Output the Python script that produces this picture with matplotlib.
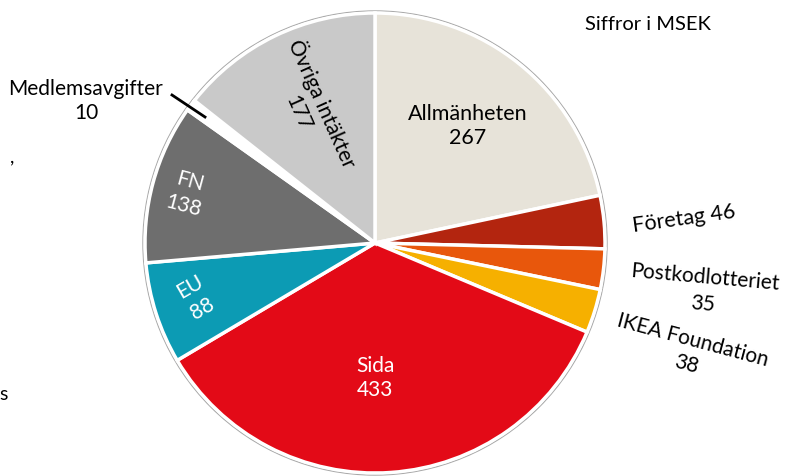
import numpy as np
import matplotlib.pyplot as plt
from matplotlib.patches import Circle

labels = ['Allmänheten', 'Företag', 'Postkodlotteriet', 'IKEA Foundation',
          'Sida', 'EU', 'FN', 'Medlemsavgifter', 'Övriga intäkter']
values = [267, 46, 35, 38, 433, 88, 138, 10, 177]
colors = ['#e7e3d9', '#b3250f', '#e8570c', '#f6b000', '#e30a17',
          '#0c9bb4', '#6e6e6e', '#ffffff', '#c9c9c9']

plt.rcParams['font.family'] = ['Lato', 'DejaVu Sans']

W, H = 785, 476
fig = plt.figure(figsize=(7.85, 4.76), dpi=100)
ax = fig.add_axes([0, 0, 1, 1])

cx, cy, r = 375, H - 243, 230
ax.add_patch(Circle((cx, cy), r + 2, fill=False, ec='#a8a8a8', lw=1.0))
ax.pie(values, colors=colors, startangle=90, counterclock=False,
       center=(cx, cy), radius=r, frame=True,
       wedgeprops=dict(edgecolor='white', linewidth=2.5))
ax.set_xlim(0, W)
ax.set_ylim(0, H)
ax.set_aspect('equal')
ax.axis('off')


def txt(x, y, s, color='black', rot=0, size=15, ls=1.3):
    ax.text(x, H - y, s, color=color, rotation=rot, ha='center', va='center',
            fontsize=size, linespacing=ls, rotation_mode='anchor')


txt(468, 126, 'Allmänheten\n267', size=15.5)
txt(684, 219, 'Företag 46', rot=8, size=15.5)
txt(704, 291, 'Postkodlotteriet\n35', rot=-5, size=15, ls=1.45)
txt(690, 352, 'IKEA Foundation\n38', rot=-15, size=15)
txt(375, 378, 'Sida\n433', color='white')
txt(196, 298, 'EU\n88', color='white', rot=30)
txt(187, 194, 'FN\n138', color='white', rot=-15)
txt(311, 108, 'Övriga intäkter\n177', rot=-66)
txt(86, 101, 'Medlemsavgifter\n10')
txt(648, 24, 'Siffror i MSEK', size=14.5)
txt(12, 157, ',', size=14)
txt(4, 395, 's', size=14)

ax.plot([172, 205], [H - 95, H - 117], color='black', lw=2)

fig.savefig('out.png', dpi=100)
